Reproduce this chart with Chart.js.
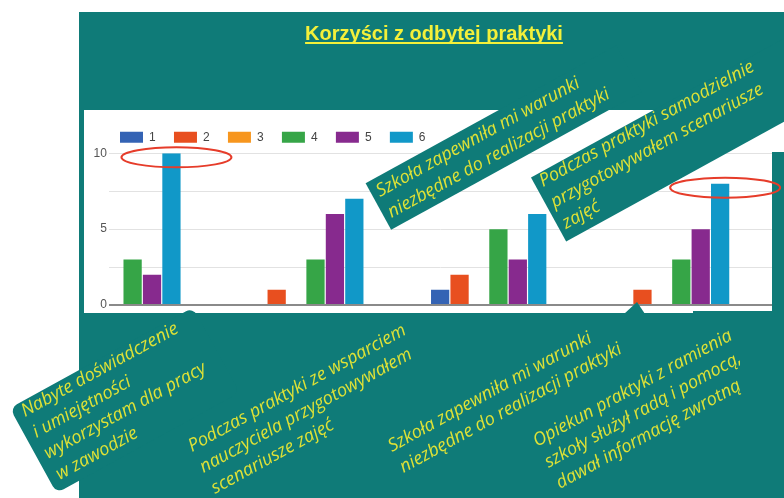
<!DOCTYPE html>
<html>
<head>
<meta charset="utf-8">
<script src="https://cdn.jsdelivr.net/npm/chart.js@4.4.0/dist/chart.umd.min.js"></script>
<style>
  html, body { margin: 0; padding: 0; background: #fff; }
  #wrap { width: 784px; height: 498px; }
</style>
</head>
<body>
<div id="wrap"><canvas id="chart" width="784" height="498"></canvas></div>
<script>
// dane wykresu
const title = 'Korzyści z odbytej praktyki';
const groupPos = [0, 1, 2, 3];
const seriesLabels = ['1', '2', '3', '4', '5', '6'];
const seriesColors = ['#3463b4', '#e84f1f', '#f7961e', '#36a547', '#872a8e', '#1198c8'];
const s1 = [0, 0, 1, 0];
const s2 = [0, 1, 2, 1];
const s3 = [0, 0, 0, 0];
const s4 = [3, 3, 5, 3];
const s5 = [2, 6, 3, 5];
const s6 = [10, 7, 6, 8];
const yTickLabels = [0, 5, 10];

// opisy kategorii (dymki pod wykresem)
const categories = [
  ['Nabyte doświadczenie', 'i umiejętności', 'wykorzystam dla pracy', 'w zawodzie'],
  ['Podczas praktyki ze wsparciem', 'nauczyciela przygotowywałem', 'scenariusze zajęć'],
  ['Szkoła zapewniła mi warunki', 'niezbędne do realizacji praktyki'],
  ['Opiekun praktyki z ramienia', 'szkoły służył radą i pomocą,', 'dawał informację zwrotną']
];
// dymki nad wykresem
const notes = [
  ['Szkoła zapewniła mi warunki', 'niezbędne do realizacji praktyki'],
  ['Podczas praktyki samodzielnie', 'przygotowywałem scenariusze', 'zajęć']
];
// zaznaczone słupki: [seria, kategoria]
const marked = [[5, 0], [5, 3]];

const TEAL = '#0f7b78';
const YELLOW = '#dfe236';
const ANGLE = -28.8 * Math.PI / 180;
const LH = 24;

function rotBox(ctx, x, y, u0, v0, u1, v1, r) {
  ctx.save();
  ctx.translate(x, y);
  ctx.rotate(ANGLE);
  ctx.beginPath();
  ctx.roundRect(u0, v0, u1 - u0, v1 - v0, r);
  ctx.fillStyle = TEAL;
  ctx.fill();
  ctx.restore();
}

function rotText(ctx, x, y, lines) {
  ctx.save();
  ctx.translate(x, y);
  ctx.rotate(ANGLE);
  ctx.font = 'italic 18px "Open Sans"';
  ctx.fillStyle = YELLOW;
  ctx.textAlign = 'left';
  ctx.textBaseline = 'alphabetic';
  lines.forEach((t, i) => ctx.fillText(t, 0, i * LH));
  ctx.restore();
}

// tło slajdu
const slideBg = {
  id: 'slideBg',
  beforeDraw(chart) {
    const ctx = chart.ctx;
    ctx.save();
    ctx.fillStyle = '#fff';
    ctx.fillRect(0, 0, 784, 498);
    ctx.fillStyle = TEAL;
    ctx.fillRect(79, 12, 705, 486);
    ctx.fillStyle = '#fff';
    ctx.fillRect(84, 110, 700, 203);
    ctx.restore();
  }
};

// dymki, tytuł, elipsy
const overlay = {
  id: 'overlay',
  afterDraw(chart) {
    const ctx = chart.ctx;
    ctx.save();
    ctx.fillStyle = TEAL;
    ctx.fillRect(772, 152, 12, 161);
    ctx.fillRect(693, 311, 79, 3);
    ctx.beginPath();
    ctx.moveTo(624, 314);
    ctx.lineTo(637, 302);
    ctx.lineTo(645, 314);
    ctx.closePath();
    ctx.fill();

    // elipsy wokół najwyższych słupków
    ctx.strokeStyle = '#e63c2a';
    ctx.lineWidth = 2;
    marked.forEach(([ds, i]) => {
      const bar = chart.getDatasetMeta(ds).data[i];
      ctx.beginPath();
      ctx.ellipse(bar.x + 5, bar.y + 4, 55, 10, 0, 0, Math.PI * 2);
      ctx.stroke();
    });

    rotBox(ctx, 25, 417, -9, -15, 200, 82, 8);
    rotBox(ctx, 380, 197, -6, -19, 280, 34, 0);
    rotBox(ctx, 543, 187, -6, -14, 330, 59, 0);

    rotText(ctx, 380, 197, notes[0]);
    rotText(ctx, 543, 187, notes[1]);
    rotText(ctx, 25, 417, categories[0]);
    rotText(ctx, 192, 452, categories[1]);
    rotText(ctx, 392, 452, categories[2]);
    rotText(ctx, 537, 447, categories[3]);

    // tytuł
    ctx.font = 'bold 20px Arial, "Liberation Sans"';
    ctx.fillStyle = '#f3f03a';
    ctx.textAlign = 'center';
    ctx.textBaseline = 'alphabetic';
    ctx.fillText(title, 434, 40);
    const w = ctx.measureText(title).width;
    ctx.fillRect(434 - w / 2, 42, w, 2);
    ctx.restore();
  }
};

const seriesData = [s1, s2, s3, s4, s5, s6];

new Chart(document.getElementById('chart'), {
  type: 'bar',
  data: {
    labels: groupPos,
    datasets: seriesData.map((d, i) => ({
      label: seriesLabels[i],
      data: d,
      backgroundColor: seriesColors[i],
      borderWidth: 0,
      categoryPercentage: 0.637,
      barPercentage: 0.94
    }))
  },
  options: {
    responsive: false,
    animation: false,
    devicePixelRatio: 1,
    layout: { padding: { left: 101.7, right: 12, top: 113, bottom: 193 } },
    plugins: {
      legend: {
        position: 'top',
        align: 'start',
        labels: {
          boxWidth: 23,
          boxHeight: 11,
          padding: 18.3,
          color: '#444',
          font: { family: 'Arial', size: 12 }
        }
      },
      tooltip: { enabled: false }
    },
    scales: {
      x: {
        type: 'linear',
        display: false,
        offset: false,
        min: -0.076,
        max: 3.549,
        ticks: { stepSize: 1, includeBounds: false }
      },
      y: {
        min: 0,
        max: 10,
        border: { display: false },
        grid: {
          drawTicks: false,
          color: (c) => (c.tick && c.tick.value === 0 ? '#8a8a8a' : '#e2e2e2'),
          lineWidth: (c) => (c.tick && c.tick.value === 0 ? 2 : 1)
        },
        ticks: {
          stepSize: 2.5,
          mirror: true,
          crossAlign: 'far',
          padding: -15.5,
          color: '#555',
          font: { family: 'Arial', size: 12 },
          callback: (v) => (yTickLabels.includes(v) ? String(v) : '')
        },
        afterFit: (scale) => { scale.width = 7.3; }
      }
    }
  },
  plugins: [slideBg, overlay]
});
</script>
</body>
</html>
